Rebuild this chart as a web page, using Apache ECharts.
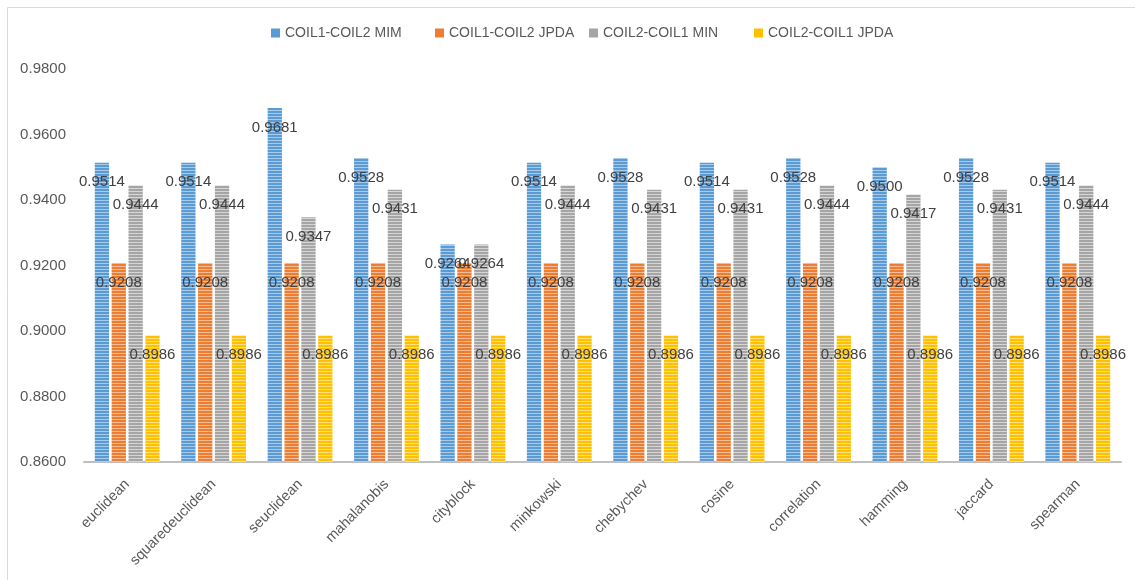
<!DOCTYPE html>
<html>
<head>
<meta charset="utf-8">
<script src="https://cdn.jsdelivr.net/npm/echarts@6/dist/echarts.min.js"></script>
<style>
  html, body { margin: 0; padding: 0; background: #fff; }
  #chart { width: 1135px; height: 580px; }
</style>
</head>
<body>
<div id="chart"></div>
<script>
const categories = ['euclidean', 'squaredeuclidean', 'seuclidean', 'mahalanobis', 'cityblock',
  'minkowski', 'chebychev', 'cosine', 'correlation', 'hamming', 'jaccard', 'spearman'];
const seriesNames = ['COIL1-COIL2 MIM', 'COIL1-COIL2 JPDA', 'COIL2-COIL1 MIN', 'COIL2-COIL1 JPDA'];
const coil12Mim = [0.9514, 0.9514, 0.9681, 0.9528, 0.9264, 0.9514, 0.9528, 0.9514, 0.9528, 0.9500, 0.9528, 0.9514];
const coil12Jpda = [0.9208, 0.9208, 0.9208, 0.9208, 0.9208, 0.9208, 0.9208, 0.9208, 0.9208, 0.9208, 0.9208, 0.9208];
const coil21Min = [0.9444, 0.9444, 0.9347, 0.9431, 0.9264, 0.9444, 0.9431, 0.9431, 0.9444, 0.9417, 0.9431, 0.9444];
const coil21Jpda = [0.8986, 0.8986, 0.8986, 0.8986, 0.8986, 0.8986, 0.8986, 0.8986, 0.8986, 0.8986, 0.8986, 0.8986];
const yTicks = { min: 0.86, max: 0.98, interval: 0.02 };

// horizontal stripe fill: alternating base and lighter rows
function stripes(base, light) {
  const c = document.createElement('canvas');
  c.width = 4; c.height = 3;
  const g = c.getContext('2d');
  g.fillStyle = base; g.fillRect(0, 0, 4, 2);
  g.fillStyle = light; g.fillRect(0, 2, 4, 1);
  return { image: c, repeat: 'repeat' };
}

const palette = [
  { base: '#5B9BD5', light: '#A9CBEA', solid: '#5B9BD5' },
  { base: '#ED7D31', light: '#F6BC95', solid: '#ED7D31' },
  { base: '#A5A5A5', light: '#D6D6D6', solid: '#A5A5A5' },
  { base: '#FFC000', light: '#FFE07A', solid: '#FFC000' }
];
const values = [coil12Mim, coil12Jpda, coil21Min, coil21Jpda];
// one legend entry per series, laid out in fixed columns
const legendLefts = [271, 435, 589, 754];

const chart = echarts.init(document.getElementById('chart'), null, { renderer: 'canvas' });
chart.setOption({
  animation: false,
  backgroundColor: '#fff',
  textStyle: { fontFamily: 'Liberation Sans' },
  graphic: [{
    type: 'polyline',
    shape: { points: [[7.5, 580], [7.5, 7.5], [1135, 7.5]] },
    style: { fill: 'none', stroke: '#D9D9D9', lineWidth: 1 },
    silent: true
  }],
  legend: seriesNames.map((n, i) => ({
    top: 26,
    left: legendLefts[i],
    padding: 0,
    itemWidth: 9,
    itemHeight: 9,
    itemGap: 5,
    icon: 'rect',
    textStyle: { color: '#595959', fontSize: 14, fontFamily: 'Liberation Sans' },
    data: [{ name: n, itemStyle: { color: palette[i].solid } }]
  })),
  grid: { left: 84, right: 14, top: 69, bottom: 118 },
  xAxis: {
    type: 'category',
    data: categories,
    axisLine: { lineStyle: { color: '#BFBFBF', width: 2 } },
    axisTick: { show: false },
    axisLabel: {
      rotate: 45,
      color: '#595959',
      fontSize: 14.5,
      fontFamily: 'Liberation Sans',
      margin: 20,
      interval: 0
    }
  },
  yAxis: {
    type: 'value',
    min: yTicks.min,
    max: yTicks.max,
    interval: yTicks.interval,
    splitLine: { show: false },
    axisLine: { show: false },
    axisTick: { show: false },
    axisLabel: {
      color: '#595959',
      fontSize: 15,
      margin: 18,
      formatter: v => v.toFixed(4)
    }
  },
  series: values.map((data, i) => ({
    name: seriesNames[i],
    type: 'bar',
    data: data,
    barGap: '18%',
    barCategoryGap: '25%',
    itemStyle: { color: stripes(palette[i].base, palette[i].light) },
    label: {
      show: true,
      position: 'insideTop',
      distance: 12,
      color: '#404040',
      fontSize: 15,
      fontFamily: 'Liberation Sans',
      formatter: p => p.value.toFixed(4)
    },
    labelLayout: { hideOverlap: false }
  }))
});
</script>
</body>
</html>
